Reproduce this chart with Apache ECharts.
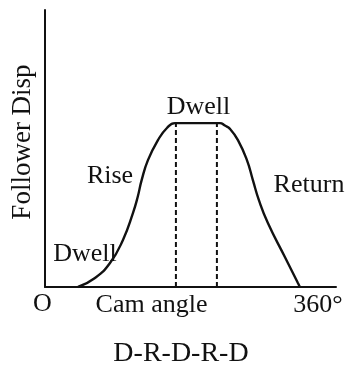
<!DOCTYPE html>
<html>
<head>
<meta charset="utf-8">
<script src="https://cdn.jsdelivr.net/npm/echarts@6/dist/echarts.min.js"></script>
<style>
  html, body { margin: 0; padding: 0; background: #fff; }
  #chart { width: 348px; height: 367px; }
</style>
</head>
<body>
<div id="chart"></div>
<script>
// Follower displacement over one cam revolution (Dwell-Rise-Dwell-Return-Dwell)
const camAngle = [46.6, 70.6, 91.8, 110.1, 124.2, 130.9, 136.5, 145.4, 159.5, 172.2, 183.5,
                  247.1, 254.1, 261.2, 272.5, 285.2, 293.6, 302.1, 314.8, 338.8, 357.2, 360];
const displacement = [0, 5.5, 14.6, 28.7, 45.1, 54.9, 65.2, 77.4, 89.6, 97.0, 100,
                      100, 98.5, 96.5, 89.6, 77.4, 65.2, 53.0, 39.0, 18.3, 2.4, 0];

// Boundaries of the top dwell, marked with dashed verticals
const dwellMarks = [184.9, 242.8];
const dwellLevel = 100;

// Axis end labels
const tickLabels = ['O', '360°'];

const axisMax = 411;
const dispMax = 169;

const ink = '#111';
const serif = '"Liberation Serif", "Times New Roman", serif';

const chart = echarts.init(document.getElementById('chart'), null, { renderer: 'canvas' });

const series = [{
  type: 'line',
  data: camAngle.map((a, i) => [a, displacement[i]]),
  smooth: 0.5,
  symbol: 'none',
  lineStyle: { color: ink, width: 2.4 },
  z: 3
}];
dwellMarks.forEach(a => {
  series.push({
    type: 'line',
    data: [[a, 0], [a, dwellLevel]],
    symbol: 'none',
    lineStyle: { color: ink, width: 2, type: [5, 3] },
    z: 2
  });
});

const txt = (text, x, y, size, extra) => Object.assign({
  type: 'text',
  x: x, y: y,
  style: {
    text: text,
    font: size + 'px ' + serif,
    fill: ink,
    align: 'center',
    verticalAlign: 'middle'
  },
  z: 10
}, extra || {});

chart.setOption({
  animation: false,
  backgroundColor: '#fff',
  grid: { left: 45, top: 10, right: 12, bottom: 80, containLabel: false },
  xAxis: {
    type: 'value', min: 0, max: axisMax,
    axisLine: { show: true, onZero: false, symbol: 'none', lineStyle: { color: ink, width: 2 } },
    axisTick: { show: false }, axisLabel: { show: false }, splitLine: { show: false }
  },
  yAxis: {
    type: 'value', min: 0, max: dispMax,
    axisLine: { show: true, symbol: 'none', lineStyle: { color: ink, width: 2 } },
    axisTick: { show: false }, axisLabel: { show: false }, splitLine: { show: false }
  },
  series: series,
  graphic: [
    txt('Follower Disp', 23, 142, 27, { rotation: Math.PI / 2 }),
    txt('Dwell', 198.5, 107, 26),
    txt('Rise', 110, 176, 26),
    txt('Return', 309, 185, 26),
    txt('Dwell', 85, 254.5, 26),
    txt(tickLabels[0], 42.5, 304, 26),
    txt('Cam angle', 151.5, 305.5, 26),
    txt(tickLabels[1], 318, 305.5, 26),
    txt('D-R-D-R-D', 181, 353.5, 28)
  ]
});
</script>
</body>
</html>
